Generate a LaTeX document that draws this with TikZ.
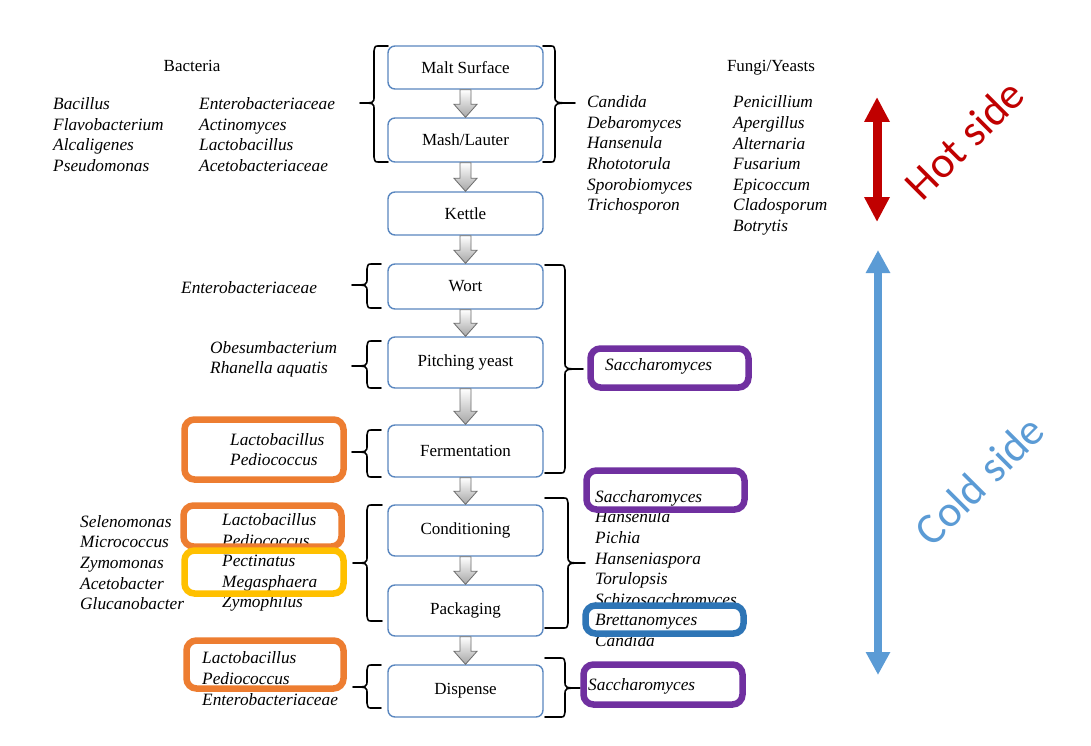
\documentclass[tikz,border=0pt]{standalone}
\usepackage{fontspec}
\setmainfont{Liberation Serif}
\newfontfamily\calib{Carlito}
\usetikzlibrary{arrows.meta,calc}
\definecolor{boxblue}{HTML}{5A87C0}
\definecolor{hlorange}{HTML}{ED7D31}
\definecolor{hlyellow}{HTML}{FFC000}
\definecolor{hlpurple}{HTML}{7030A0}
\definecolor{hlblue}{HTML}{2E75B6}
\definecolor{hotred}{HTML}{C00000}
\definecolor{coldblue}{HTML}{5B9BD5}
\newcommand\grayarrow[2]{\path[garrow] let \p1=(#1.south), \p2=(#2.north) in
  (\x1-5.5pt,\y1) -- (\x1+5.5pt,\y1) -- (\x1+5.5pt,\y2+13pt) -- (\x1+11.5pt,\y2+13pt)
  -- (\x1,\y2) -- (\x1-11.5pt,\y2+13pt) -- (\x1-5.5pt,\y2+13pt) -- cycle;}
% left brace: #1 vertical x, #2 hook end x, #3 top, #4 bottom, #5 mid, #6 tip x
\newcommand\lbr[6]{\draw[brc] (#2,#3) -- (#1+5,#3) .. controls (#1+1,#3) .. (#1,#3+5)
  -- (#1,#5-7) .. controls (#1,#5) .. (#6,#5) .. controls (#1,#5) .. (#1,#5+7)
  -- (#1,#4-5) .. controls (#1+1,#4) .. (#1+5,#4) -- (#2,#4);}
\newcommand\rbr[6]{\draw[brc] (#2,#3) -- (#1-5,#3) .. controls (#1-1,#3) .. (#1,#3+5)
  -- (#1,#5-7) .. controls (#1,#5) .. (#6,#5) .. controls (#1,#5) .. (#1,#5+7)
  -- (#1,#4-5) .. controls (#1-1,#4) .. (#1-5,#4) -- (#2,#4);}
\begin{document}
\begin{tikzpicture}[x=1pt,y=-1pt,
  every node/.style={font=\fontsize{17}{20.6}\selectfont},
  stage/.style={draw=boxblue, line width=1.4pt, rounded corners=7pt, minimum width=155pt, fill=white, inner sep=0pt},
  lst/.style={anchor=west, align=left, inner sep=0pt, font=\fontsize{17.3}{20.6}\selectfont\itshape},
  hl/.style={rounded corners=10pt, line width=6.5pt},
  brc/.style={line width=1.6pt, line join=round, line cap=round},
  garrow/.style={draw=gray!85!black, line width=0.8pt, top color=white, bottom color=gray!70},
  sidetxt/.style={rotate=45, anchor=base, inner sep=0pt, font=\fontsize{44}{50}\selectfont\calib},
]
\useasboundingbox[fill=white] (0,0) rectangle (1091,746);

% process stages
\node[stage, minimum height=43pt] (malt) at (465.5,67.5) {Malt Surface};
\node[stage, minimum height=44pt] (mash) at (465.5,140) {Mash/Lauter};
\node[stage, minimum height=43pt] (kettle) at (465.5,213.5) {Kettle};
\node[stage, minimum height=45pt] (wort) at (465.5,286.5) {Wort};
\node[stage, minimum height=51pt] (pitch) at (465.5,362.5) {Pitching yeast};
\node[stage, minimum height=52pt] (ferm) at (465.5,451) {Fermentation};
\node[stage, minimum height=51pt] (cond) at (465.5,530.5) {Conditioning};
\node[stage, minimum height=51pt] (pack) at (465.5,610.5) {Packaging};
\node[stage, minimum height=52pt] (disp) at (465.5,691) {Dispense};

\grayarrow{malt}{mash}
\grayarrow{mash}{kettle}
\grayarrow{kettle}{wort}
\grayarrow{wort}{pitch}
\grayarrow{pitch}{ferm}
\grayarrow{ferm}{cond}
\grayarrow{cond}{pack}
\grayarrow{pack}{disp}

% braces
\lbr{374}{388}{46}{162}{103}{360}
\rbr{555}{543}{46}{162}{103}{575}
\lbr{367}{381}{264}{308}{285}{352}
\lbr{367}{381}{341}{388}{366}{352}
\lbr{367}{381}{430}{477}{452}{352}
\rbr{565}{545}{265}{473}{369}{583}
\lbr{367}{382}{505}{621}{563}{353}
\rbr{568}{545}{498}{628}{563}{585}
\lbr{367}{381}{665}{708}{687}{353}
\rbr{565}{545}{658}{717}{688}{580}

% hot side texts
\node[anchor=base] (bact) at (192,72) {Bacteria};
\node[lst] (bl1) at (53,134.5) {Bacillus\\Flavobacterium\\Alcaligenes\\Pseudomonas};
\node[lst] (bl2) at (199,134.5) {Enterobacteriaceae\\Actinomyces\\Lactobacillus\\Acetobacteriaceae};
\node[anchor=base] (fungi) at (771,72) {Fungi/Yeasts};
\node[lst] (fy1) at (587,155) {Candida\\Debaromyces\\Hansenula\\Rhototorula\\Sporobiomyces\\Trichosporon};
\node[lst] (fy2) at (733,165.5) {Penicillium\\Apergillus\\Alternaria\\Fusarium\\Epicoccum\\Cladosporum\\Botrytis};

% cold side texts left
\node[lst] (ent1) at (181,287.5) {Enterobacteriaceae};
\node[lst] (obes) at (210,359.5) {Obesumbacterium\\Rhanella aquatis};
\node[lst] (lp1) at (230,449.5) {Lactobacillus\\Pediococcus};
\node[lst] (cl1) at (80,562.5) {Selenomonas\\Micrococcus\\Zymomonas\\Acetobacter\\Glucanobacter};
\node[lst] (cl2) at (222,562.5) {Lactobacillus\\Pediococcus\\Pectinatus\\Megasphaera\\Zymophilus};
\node[lst] (dl) at (202,678.5) {Lactobacillus\\Pediococcus\\Enterobacteriaceae};

% cold side texts right
\node[lst] (sac1) at (605,366.5) {Saccharomyces};
\node[lst] (yl) at (595,568.5) {Saccharomyces\\Hansenula\\Pichia\\Hanseniaspora\\Torulopsis\\Schizosacchromyces\\Brettanomyces\\Candida};
\node[lst] (sac3) at (588,686.5) {Saccharomyces};

% highlight boxes
\draw[hl, hlorange] (184.5,419.5) rectangle (343.5,479.5);
\draw[hl, hlorange] (183.5,505.5) rectangle (341.5,546.5);
\draw[hl, hlyellow] (184.5,550.5) rectangle (343.5,593.5);
\draw[hl, hlorange] (186.5,640.5) rectangle (343.5,688.5);
\draw[hl, hlpurple] (590.5,348.5) rectangle (748.5,387.5);
\draw[hl, hlpurple] (586.5,470.5) rectangle (744.5,509.5);
\draw[hl, hlblue] (585.5,605.5) rectangle (743.5,633.5);
\draw[hl, hlpurple] (583.5,664.5) rectangle (742.5,704.5);

% side arrows
\coordinate (h1) at (877,97);
\coordinate (h2) at (877,222);
\draw[hotred, line width=9pt, {Triangle[width=24pt,length=25pt]}-{Triangle[width=24pt,length=25pt]}] (h1) -- (h2);
\coordinate (c1) at (878,250);
\coordinate (c2) at (878,675);
\draw[coldblue, line width=8pt, {Triangle[width=23pt,length=23pt]}-{Triangle[width=23pt,length=23pt]}] (c1) -- (c2);

\node[sidetxt, text=hotred] (hot) at (975,150) {Hot side};
\node[sidetxt, text=coldblue] (cold) at (990,491) {Cold side};
\end{tikzpicture}
\end{document}
